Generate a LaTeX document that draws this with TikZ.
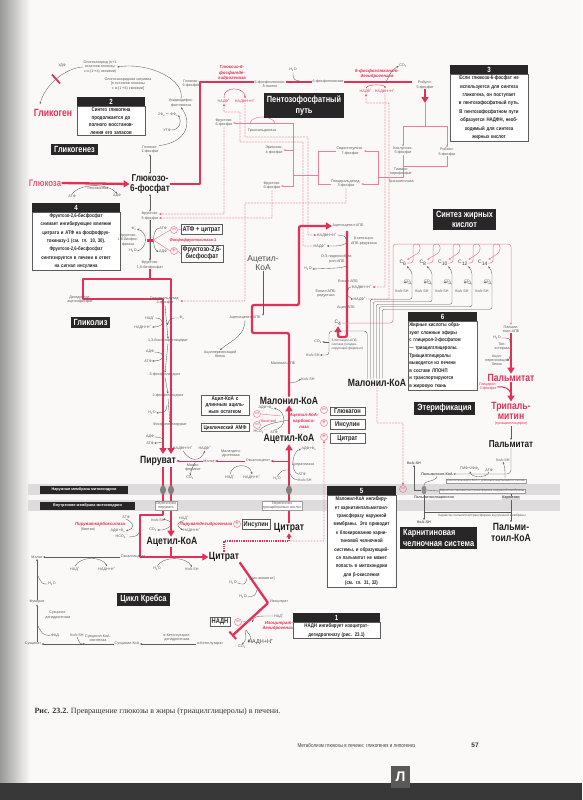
\documentclass[tikz,border=0pt]{standalone}
\usepackage{fontspec}
\setmainfont{Liberation Sans}
\newfontfamily\cnd[FakeStretch=0.82]{Liberation Sans}
\newfontfamily\srf{Liberation Serif}
\newfontfamily\djv{DejaVu Sans}
\usetikzlibrary{arrows.meta,calc,shapes.geometric}
\newcommand\sbx[1]{\textsubscript{#1}}
\newcommand\spx[1]{\textsuperscript{#1}}
\pgfdeclarelayer{back}
\pgfdeclarelayer{mid}
\pgfsetlayers{back,mid,main}
\definecolor{rd}{RGB}{226,48,86}
\definecolor{pk}{RGB}{234,128,150}
\definecolor{dotc}{RGB}{228,80,110}
\definecolor{lg}{RGB}{92,92,92}
\definecolor{paper}{RGB}{250,249,247}
\definecolor{band}{RGB}{221,219,219}
\definecolor{dk}{RGB}{40,38,38}
\tikzset{
 every node/.style={inner sep=0.4pt, align=center},
 xt/.style={font=\fontsize{3.7}{4.2}\selectfont, text=lg},
 xtr/.style={font=\fontsize{3.7}{4.2}\selectfont, text=rd},
 xenz/.style={font=\fontsize{4.4}{5.6}\selectfont\bfseries\itshape, text=rd},
 xbm/.style={font=\cnd\fontsize{10.5}{11}\selectfont\bfseries, text=black!88},
 xmm/.style={font=\cnd\fontsize{10}{10}\selectfont\bfseries, text=black!88},
 xrb/.style={font=\cnd\fontsize{10.5}{10.5}\selectfont\bfseries, text=rd},
 xdb/.style={fill=dk, text=white, font=\cnd\fontsize{9}{10.5}\selectfont\bfseries, inner xsep=3pt, inner ysep=2.5pt},
 xhd/.style={fill=dk, text=white, font=\cnd\fontsize{7.5}{7.5}\selectfont\bfseries, minimum height=9pt, inner sep=0pt, anchor=north west},
 xbd/.style={draw=lg, line width=0.6pt, fill=white, text=black!85, inner xsep=1pt, inner ysep=1.5pt, anchor=north west},
 xib/.style={draw=lg, line width=0.7pt, fill=white, font=\cnd\fontsize{7}{7.5}\selectfont\bfseries, text=black!85, inner sep=1.6pt},
 xsb/.style={xt, draw=lg!60, line width=0.3pt, fill=white, inner sep=0.8pt},
 xR/.style={draw=rd, line width=2.3pt},
 xRa/.style={xR, -{Triangle[length=6pt,width=7pt]}},
 xa/.style={draw=lg, line width=0.35pt, -{Stealth[length=2.2pt,width=1.8pt]}},
 xl/.style={draw=lg, line width=0.35pt},
 xrt/.style={draw=rd, line width=0.6pt, -{Stealth[length=3pt,width=2.5pt]}},
 xp/.style={draw=pk, line width=0.5pt},
 xpa/.style={xp, -{Stealth[length=2.4pt,width=2pt]}},
 xdt/.style={draw=dotc, line width=0.75pt, line cap=round, dash pattern=on 0pt off 1.5pt, -{Stealth[length=2.6pt,width=2.2pt]}},
 xneg/.style={circle, draw=rd!70, line width=0.45pt, minimum size=7pt, inner sep=0pt, font=\fontsize{6.5}{6.5}\selectfont\bfseries, text=rd!70},
 xmc/.style={ellipse, fill=black!50, minimum width=6pt, minimum height=9pt, inner sep=0pt},
}
\begin{document}
\begin{tikzpicture}[x=1pt,y=-1pt]
\useasboundingbox (0,0) rectangle (582,800);
\begin{pgfonlayer}{back}
\fill[paper] (0,0) rectangle (582,800);
\shade[left color=black!40, right color=paper] (0,0) rectangle (30,783);
\fill[black!78] (0,783) rectangle (582,800);
\fill[band] (28,484) rectangle (560,495);
\fill[band] (28,500) rectangle (560,511);
\end{pgfonlayer}

% ---------- glycogen ----------
\node[xt] (olg1) at (100,67) {Олигосахарид (n+1\\остатков глюкозы\\с α-(1{\djv →}4) связями)};
\node[xt] (olg2) at (128,84) {Олигосахаридная затравка\\{[}n остатков глюкозы\\с α-(1{\djv →}4) связями{]}};
\node[xt] (udf) at (62,66) {УДФ};
\node[xrb] (glg) at (53,113) {Гликоген};
\coordinate (gkt) at (40,104);
\node[xhd, minimum width=68pt] (h2) at (77,97) {2};
\node[xbd, text width=65.5pt, font=\cnd\fontsize{5.4}{7.5}\selectfont\bfseries] (b2) at (77,106) {Синтез гликогена\\продолжается до\\полного восстанов-\\ления его запасов};
\node[xdb] (glgen) at (74.5,149.5) {Гликогенез};
\node[xt] (g1p) at (150,150) {Глюкозо-\\1-фосфат};
\node[xt] (udpg) at (181,103) {Уридиндифос-\\фатглюкоза};
\node[xt] (pp) at (168,115) {2Ф\sbx{н} {\djv ←} ФФ\sbx{н}};
\node[xt] (utp) at (167,130) {УТФ};

% ---------- glucose ----------
\node[xrb, text=rd!80, font=\cnd\fontsize{9.5}{9.5}\selectfont\bfseries] (glc) at (45,183) {Глюкоза};
\node[xmm] (g6p) at (150,184) {Глюкозо-\\6-фосфат};
\node[xt] (hk) at (98,188) {Гексокиназа};
\node[xt] (atp1) at (72,196) {АТФ};
\node[xt] (adp1) at (117,196) {АДФ};

% ---------- pentose ----------
\node[xt] (g6ps) at (191,84) {Глюкозо-\\6-фосфат};
\node[xenz] (g6pdh) at (232,73) {Глюкозо-6-\\фосфатде-\\гидрогеназа};
\node[xtr] (nadp1) at (224,101) {НАДФ\spx{+}};
\node[xtr] (nadph1) at (245,101) {НАДФН+Н\spx{+}};
\node[xt, fill=paper] (lac) at (270,84) {6-фосфоглюконо-\\δ-лактон};
\node[xt] (h2o1) at (293,70) {H\sbx{2}O};
\node[xt, fill=paper] (pgl) at (328,82) {6-фосфоглюконат};
\node[xenz] (pgdh) at (377,74) {6-фосфоглюконат-\\дегидрогеназа};
\node[xt] (co2a) at (403,66) {CO\sbx{2}};
\node[xtr] (nadp2) at (366,91) {НАДФ\spx{+}};
\node[xtr] (nadph2) at (385,91) {НАДФН+Н\spx{+}};
\node[xt, fill=paper] (ru5p) at (425,85) {Рибуло-\\5-фосфат};
\coordinate (rc3) at (425,103);
\node[xdb] (ppp) at (304,105.5) {Пентозофосфатный\\путь};
\node[xhd, minimum width=78pt] (h3) at (450,65) {3};
\node[xbd, text width=75.5pt, font=\cnd\fontsize{5.3}{8.4}\selectfont\bfseries] (b3) at (450,74) {Если глюкозо-6-фосфат не\\используется для синтеза\\гликогена, он поступает\\в пентозофосфатный путь.\\В пентозофосфатном пути\\образуется НАДФН, необ-\\ходимый для синтеза\\жирных кислот};
\node[xt] (f6pa) at (224,123) {Фруктозо-\\6-фосфат};
\node[xt] (tald) at (262,131) {Трансальдолаза};
\node[xt] (e4p) at (274,150) {Эритрозо-\\4-фосфат};
\node[xt] (f6pb) at (272,186) {Фруктозо-\\6-фосфат};
\node[xt] (s7p) at (350,151) {Седогептулозо-\\7-фосфат};
\node[xt] (gapa) at (346,184) {Глицеральдегид-\\3-фосфат};
\node[xt] (x5p) at (403,151) {Ксилулозо-\\5-фосфат};
\node[xt] (r5p) at (447,152) {Рибозо-\\5-фосфат};
\node[xt] (tpp) at (401,172) {Тиамин-\\пирофосфат};
\node[xt] (tkt) at (401,182) {Транскетолаза};

% ---------- glycolysis ----------
\node[xhd, minimum width=88pt] (h4) at (32,203) {4};
\node[xbd, text width=85.5pt, font=\cnd\fontsize{5.2}{8.3}\selectfont\bfseries] (b4) at (32,212) {Фруктозо-2,6-бисфосфат\\снимает ингибирующее влияние\\цитрата и АТФ на фосфофрук-\\токиназу-1 (см. гл. 10, 30).\\Фруктозо-2,6-бисфосфат\\синтезируется в печени в ответ\\на сигнал инсулина};
\node[xt] (f6p) at (150,216) {Фруктозо-\\6-фосфат};
\node[xt] (f16) at (150,265) {Фруктозо-\\1,6-бисфосфат};
\node[fill=rd, minimum width=6pt, minimum height=3pt, inner sep=0pt] (pfkm) at (150,240) {};
\node[xtr, font=\fontsize{4}{4.5}\selectfont\bfseries\itshape] (pfk) at (193,240) {Фосфофруктокиназа-1};
\node[xt] (atp2) at (163,228) {АТФ};
\node[xt] (adp2) at (163,252) {АДФ};
\node[xt] (pi2) at (134,229) {Ф\sbx{н}};
\node[xt] (fbp) at (128,240) {Фруктозо-\\1,6-бисфос-\\фатаза};
\node[xt] (h2o2) at (133,251) {H\sbx{2}O};
\node[xib] (atpc) at (201.5,229.5) {АТФ + цитрат};
\node[xneg] (n1) at (174,230) {{\djv −}};
\node[xib] (f26) at (202,253.5) {Фруктозо-2,6-\\бисфосфат};
\node[xneg] (p1) at (174,251) {+};
\node[xt] (dhap) at (80,300) {Дигидрокси-\\ацетонфосфат};
\node[xt] (gap) at (165,301) {Глицеральдегид-\\3-фосфат};
\node[xdb] (glyc) at (90.5,322.5) {Гликолиз};
\node[xt] (nad1) at (150,318) {НАД\spx{+}};
\node[xt] (pi1) at (182,318) {Ф\sbx{н}};
\node[xt] (nadh1) at (143,327) {НАДН+Н\spx{+}};
\node[xt] (bpg) at (168,341) {1,3-бисфосфоглицерат};
\node[xt] (adp3) at (150,352) {АДФ};
\node[xt] (atp3) at (148,361) {АТФ};
\node[xt] (pg3) at (165,375) {3-фосфоглицерат};
\node[xt] (pg2) at (168,396) {2-фосфоглицерат};
\node[xt] (h2o3) at (152,413) {H\sbx{2}O};
\node[xt] (pep) at (170,425) {Фосфоенолпируват};
\node[xt] (adp4) at (150,437) {АДФ};
\node[xt] (atp4) at (150,443) {АТФ};
\node[xbm] (pyr) at (158,461) {Пируват};

% ---------- cytosol middle ----------
\node[xt] (mal1) at (209,461) {Малат};
\node[xt] (oaa1) at (258,461) {Оксалоацетат};
\node[xt] (nadph5) at (183,448) {НАДФН+Н\spx{+}};
\node[xt] (nadp5) at (205,448) {НАДФ\spx{+}};
\node[xt] (me) at (193,468) {Малик-\\фермент};
\node[xt] (co2b) at (190,478) {CO\sbx{2}};
\node[xt] (mdh) at (231,454) {Малатдеги-\\дрогеназа};
\node[xt] (nad2) at (230,477) {НАД\spx{+}};
\node[xt] (nadh2) at (252,477) {НАДН+Н\spx{+}};
\node[xbm] (acc) at (289,439) {Ацетил-КоА};
\node[xbm] (mal) at (289,401) {Малонил-КоА};
\node[xt] (adpp) at (266,408) {АДФ+Ф\sbx{н}};
\node[xtr, font=\fontsize{4}{4.5}\selectfont\itshape] (biot) at (268,421) {(биотин)};
\node[xt] (hco3) at (260,432) {HCO\sbx{3}\spx{{\djv −}}};
\node[xt] (atp5) at (274,432) {АТФ};
\node[xenz] (accz) at (304,421) {Ацетил-КоА-\\карбокси-\\лаза};
\node[xneg] (n2) at (257,414) {{\djv −}};
\node[xneg] (n3) at (257,425) {{\djv −}};
\node[xib, font=\cnd\fontsize{5.6}{6.6}\selectfont\bfseries, text width=45pt] (lca) at (225,405) {Ацил-КоА с\\длинным ациль-\\ным остатком};
\node[xib, font=\cnd\fontsize{5.6}{6.6}\selectfont\bfseries, text width=45pt] (camp) at (225,427.5) {Циклический АМФ};
\node[xneg] (n4) at (324,410) {{\djv −}};
\node[xib, minimum width=35pt] (glucagon) at (347.5,411.5) {Глюкагон};
\node[xneg] (p2) at (324,423) {+};
\node[xib, minimum width=35pt] (ins1) at (347.5,424.5) {Инсулин};
\node[xneg] (p3) at (324,437) {+};
\node[xib, minimum width=35pt] (citb) at (347.5,438.5) {Цитрат};
\node[xt] (adpp2) at (309,449) {АДФ+Ф\sbx{н}};
\node[xt] (cl) at (303,465) {Цитратлиаза};
\node[xt] (atp6) at (302,474) {АТФ};
\node[xt] (coa6) at (305,480) {КоА-SH};
\node[xt] (h2o6) at (277,479) {H\sbx{2}O};

% ---------- membranes ----------
\node[fill=dk, text=white, font=\fontsize{3.8}{4}\selectfont\bfseries, minimum width=88pt, minimum height=8pt] (om) at (84,489.5) {Наружная мембрана митохондрии};
\node[fill=dk, text=white, font=\fontsize{3.8}{4}\selectfont\bfseries, minimum width=95pt, minimum height=8pt] (imb) at (87.5,505.5) {Внутренняя мембрана митохондрии};
\node[xmc] (mc1) at (163,490) {};
\node[xmc] (mc2) at (171,490) {};
\node[xmc] (mc3) at (289,490) {};
\node[xsb] (ptr) at (166,506) {Переносчик\\пирувата};
\node[xsb] (tcc) at (282,506) {Переносчик\\трикарбоновых кислот};

% ---------- mitochondria ----------
\node[xenz] (pdh) at (206,524) {Пируватдегидрогеназа};
\node[xneg] (p4) at (237,524) {+};
\node[xib] (ins2) at (256,524.5) {Инсулин};
\node[xt] (nad3) at (184,518) {НАД\spx{+}};
\node[xt] (nadh3) at (192,530) {НАДН+Н\spx{+}};
\node[xt] (coa3) at (158,520) {КоА-SH};
\node[xt] (co2c) at (153,530) {CO\sbx{2}};
\node[xt] (atp7) at (126,517) {АТФ};
\node[xenz] (pc) at (100,524) {Пируваткарбоксилаза};
\node[xt] (biot2) at (88,530) {(биотин)};
\node[xt] (adpp3) at (118,531) {АДФ+Ф\sbx{н}};
\node[xt] (hco3b) at (122,537) {HCO\sbx{3}\spx{{\djv −}}};
\node[xbm] (acm) at (172,542) {Ацетил-КоА};
\node[xbm] (cit1) at (224,557) {Цитрат};
\node[xbm] (cit2) at (289,528) {Цитрат};
\coordinate (ct1) at (289,541);

% ---------- fatty acid synthesis ----------
\node[font=\fontsize{8.5}{9.5}\selectfont, text=black!70] (acyt) at (263,263) {Ацетил-\\КоА};
\node[xt] (aacp) at (245,318) {Ацетоацетил-АПБ};
\node[xt] (acp) at (220,354) {Ацилпереносящий\\белок};
\node[xt] (macp) at (283,363) {Малонил-АПБ};
\node[xt] (coa7) at (308,379) {КоА-SH};
\node[xt] (aacp2) at (348,226) {Ацетоацетил-АПБ};
\node[xt] (nadph3) at (327,235) {НАДФН+Н\spx{+}};
\node[xt] (kar) at (364,241) {β-кетоацил-\\АПБ-редуктаза};
\node[xt] (nadp3) at (320,246) {НАДФ\spx{+}};
\node[xt] (hbacp) at (337,259) {D-3-гидроксибути-\\рил-АПБ};
\node[xt] (h2o7) at (308,269) {H\sbx{2}O};
\node[xt] (eacp) at (348,281) {Еноил-АПБ};
\node[xt] (nadph4) at (362,287) {НАДФН+Н\spx{+}};
\node[xt] (ear) at (326,294) {Еноил-АПБ-\\редуктаза};
\node[xt] (nadp4) at (360,299) {НАДФ\spx{+}};
\node[xt] (acylacp) at (346,308) {Ацил-АПБ};
\node[xt, font=\fontsize{5}{5}\selectfont, text=black!75] (cfour) at (338,323) {C\sbx{4}};
\node[xt] (co2d) at (318,342) {CO\sbx{2}};
\node[xt] (coa8) at (313,355) {КоА-SH};
\node[xt, font=\fontsize{3.3}{3.9}\selectfont, align=left, anchor=west] (kas) at (331,345) {3-Кетоацил-АПБ-\\синтаза (конден-\\сирующий фермент)};
\node[xbm] (mal2) at (377,383) {Малонил-КоА};
\node[xdb] (fas) at (464.5,219.5) {Синтез жирных\\кислот};
\foreach \i/\lab in {0/6,1/8,2/10,3/12,4/14}{
  \node[xt, font=\fontsize{5}{5}\selectfont, text=black!75] (cl\i) at ({403+20*\i},263) {C\sbx{\lab}};
  \node[xt] (kx\i) at ({402+20*\i},291) {КоА-SH};
  \node[xt] (cx\i) at ({408+20*\i},282) {CO\sbx{2}};
}
\node[xhd, minimum width=69pt] (h6) at (408,312) {6};
\node[xbd, text width=66.5pt, align=left, font=\cnd\fontsize{5.2}{7.6}\selectfont\bfseries] (b6) at (408,321) {Жирные кислоты обра-\\зуют сложные эфиры\\с глицерол-3-фосфатом\\— триацилглицеролы.\\Триацилглицеролы\\выводятся из печени\\в составе ЛПОНП\\и транспортируются\\в жировую ткань};

% ---------- right column ----------
\node[xt] (paacp) at (511,329) {Пальми-\\тоил-АПБ};
\node[xt] (h2o8) at (497,338) {H\sbx{2}O};
\node[xt] (te) at (502,347) {Тио-\\эстераза};
\node[xt] (acpb) at (497,360) {Ацил-\\переносящий\\белок};
\node[xrb] (palm1) at (511,378) {Пальмитат};
\node[xtr] (g3p) at (488,387) {Глицерол-\\3-фосфат};
\node[xrb] (tripal) at (511,411) {Трипаль-\\митин};
\node[xtr] (tag) at (511,424) {(триацилглицерол)};
\node[xdb] (est) at (444.5,408.5) {Этерификация};
\node[xmm] (palm2) at (511,444) {Пальмитат};
\node[xt] (coa9) at (503,460) {КоА-SH};
\node[xt] (gmf) at (470,469) {ГМФ+2ФФ\sbx{н}};
\node[xt] (atp9) at (489,470) {АТФ};
\node[xt, font=\fontsize{3.7}{4.2}\selectfont\bfseries] (palcoa1) at (437,474) {Пальмитоил-КоА};
\node[xsb, font=\fontsize{3.2}{3.6}\selectfont] (acs) at (486,481) {Синтетаза ацил-КоА с длинным ацильным остатком};
\node[xt, font=\fontsize{3.7}{4.2}\selectfont\bfseries] (coa10) at (414,463) {КоА-SH};
\node[ellipse, fill=black!45, minimum width=5pt, minimum height=9pt, inner sep=0pt] (cpt1o) at (424,490) {};
\node[xneg] (n5) at (403,489) {{\djv −}};
\node[xsb, font=\fontsize{3.2}{3.6}\selectfont] (cpt1) at (482,491) {Карнитин-пальмитоилтрансфераза наружной мембраны};
\node[xt, font=\fontsize{3.7}{4.2}\selectfont\bfseries] (palcar) at (434,498) {Пальмитоилкарнитин};
\node[xt, font=\fontsize{3.7}{4.2}\selectfont\bfseries, fill=band] (car) at (511,498) {Карнитин};
\node[xt, font=\fontsize{3.2}{3.6}\selectfont] (cpt2) at (482,516) {Карнитин-пальмитоилтрансфераза внутренней мембраны};
\node[xt, font=\fontsize{3.7}{4.2}\selectfont\bfseries] (coa11) at (424,522) {КоА-SH};
\node[xbm] (palcoa2) at (511,532) {Пальми-\\тоил-КоА};
\node[xdb, align=left, anchor=north west] (cns) at (400,527) {Карнитиновая\\челночная система};
\node[xhd, minimum width=69pt] (h5) at (327,486) {5};
\node[xbd, text width=66.5pt, font=\cnd\fontsize{5.2}{8.4}\selectfont\bfseries] (b5) at (327,495) {Малонил-КоА ингибиру-\\ет карнитинпальмитоил-\\трансферазу наружной\\мембраны. Это приводит\\к блокированию карни-\\тиновой челночной\\системы, и образующий-\\ся пальмитат не может\\попасть в митохондрии\\для β-окисления\\(см. гл. 31, 32)};

% ---------- Krebs ----------
\node[xt] (mal3) at (37,557) {Малат};
\node[xt] (oaa2) at (133,557) {Оксалоацетат};
\node[xt] (nad4) at (75,569) {НАД\spx{+}};
\node[xt] (nadh4) at (107,569) {НАДН+Н\spx{+}};
\node[xt] (h2o9) at (157,569) {H\sbx{2}O};
\node[xt] (coa12) at (192,569) {КоА-SH};
\node[xt] (fum) at (37,602) {Фумарат};
\node[xt] (h2o10) at (52,584) {H\sbx{2}O};
\node[xt] (sdh) at (58,615) {Сукцинат-\\дегидрогеназа};
\node[xt] (suc) at (33,644) {Сукцинат};
\node[xt] (fad) at (55,636) {ФАД};
\node[xt] (scoa) at (127,644) {Сукцинил-КоА};
\node[xt] (coa13) at (77,635) {КоА-SH};
\node[xt] (scs) at (98,638) {Сукцинил-КоА-\\синтетаза};
\node[xt] (akg) at (210,644) {α-Кетоглутарат};
\node[xt] (akgdh) at (177,638) {α-Кетоглутарат-\\дегидрогеназа};
\node[xdb] (krebs) at (143.5,599.5) {Цикл Кребса};
\coordinate (icit) at (268,603);
\coordinate (akgr) at (232,636);
\node[xt] (cis) at (262,579) {[Цис-аконитат]};
\node[xt] (h2o11) at (233,583) {H\sbx{2}O};
\node[xt] (h2o12) at (243,597) {H\sbx{2}O};
\node[xt] (icitl) at (279,602) {Изоцитрат};
\node[xt] (nad5) at (279,616) {НАД\spx{+}};
\node[xenz] (idh) at (279,626) {Изоцитрат-\\дегидрогеназа};
\node[xib] (nadhb) at (220,622) {НАДН};
\node[xneg] (n6) at (238,622) {{\djv −}};
\node[xt] (co2e) at (242,647) {CO\sbx{2}};
\node[font=\fontsize{5.5}{6}\selectfont, text=black!75] (nadh5) at (261,642) {НАДН+Н\spx{+}};
\node[xhd, minimum width=87pt] (h1) at (293,613) {1};
\node[xbd, text width=84.5pt, font=\cnd\fontsize{5.3}{8.5}\selectfont\bfseries] (b1) at (293,622) {НАДН ингибирует изоцитрат-\\дегидрогеназу (рис. 23.1)};

% ---------- caption / footer ----------
\node[anchor=west, font=\srf\fontsize{8}{9}\selectfont, text=black!80] (cap) at (34,712) {\textbf{Рис. 23.2.} Превращение глюкозы в жиры (триацилглицеролы) в печени.};
\node[anchor=west, font=\cnd\fontsize{5.6}{6}\selectfont, text=black!75] (ft) at (297,745) {Метаболизм глюкозы в печени: гликогенез и липогенез};
\node[font=\bfseries\fontsize{6.5}{7}\selectfont, text=black!80] (pgn) at (475,745) {57};
\node[fill=black!65, text=white, font=\bfseries\fontsize{14}{14}\selectfont, minimum width=19pt, minimum height=22pt] (logo) at (400.5,777) {Л};

% ================= connectors =================
\begin{pgfonlayer}{mid}
% glycogen
\draw[xa] (olg1.west) .. controls (65,68) and (45,85) .. (gkt);
\draw[draw=rd, line width=1.8pt] (52,74.5) -- (60,83.5);
\draw[xa] (g1p.north east) .. controls (188,142) and (192,122) .. (udpg.south);
\draw[xa] (udpg.north) .. controls (185,80) and (150,62) .. (olg1.east);
\draw[xa] (utp.east) .. controls (180,130) and (182,122) .. (pp.east);
\draw[xl, {Stealth[length=2pt,width=1.8pt]}-{Stealth[length=2pt,width=1.8pt]}] (g1p.south) -- (g6p.north);
% glucose
\draw[xRa] (glc.east) -- (g6p.west);
\draw[xa] (atp1.north) .. controls (80,183) and (108,183) .. (adp1.north);
% pentose red
\coordinate (rc1) at (200,82);
\coordinate (rc2) at (412,82);
\draw[xR, line join=round] (g6p.east) -| (rc1) -- (rc2);
\draw[xRa] (ru5p.south) -- (rc3);
\draw[draw=rd, line width=0.4pt, -{Stealth[length=2pt,width=1.8pt]}] (nadp1.north) .. controls (222,86) and (245,86) .. (nadph1.north);
\draw[xl] (h2o1.south) .. controls (293,80) .. (305,82);
\draw[xa] (386,82) .. controls (392,70) .. (co2a.west);
\draw[draw=rd, line width=0.4pt, -{Stealth[length=2pt,width=1.8pt]}] (nadp2.north) .. controls (366,84) and (385,84) .. (nadph2.north);
% pentose pink network
\draw[xpa] (rc3) -- (425,126) -| (x5p.north);
\draw[xpa] (425,126) -| (r5p.north);
\draw[xp] (x5p.south) |- (378,177);
\draw[xp] (r5p.south) |- (403,166);
\draw[xpa] (378,177) |- (s7p.east);
\draw[xpa] (378,177) |- (gapa.east);
\draw[xp] (s7p.west) -| (318,175);
\draw[xp] (gapa.west) -| (318,175);
\draw[xp] (318,175) -- (293,175);
\draw[xpa] (293,175) |- (e4p.east);
\draw[xpa] (293,175) |- (f6pb.east);
\draw[xpa] (293,175) |- (f6pa.east);
\draw[xp] (250,123) .. controls (252,115) and (272,115) .. (275,123);
% dotted connections
\draw[xdt] (f6pa.south) |- ($(f6p.east)+(0,-2)$);
\draw[xdt] (f6pb.south) |- ($(f6p.east)+(0,2)$);
\draw[xdt] (gapa.south) |- (245,203) |- (gap.east);
\draw[xdt] (nadph1.south) |- (308,137) |- (nadph3.west);
\draw[xdt] (nadp3.west) -| (303,142) -| (240,112) -| (nadp1.south);
\draw[xdt] (nadph2.south) |- (nadph4.east);
\draw[xdt] (nadp4.east) -| (389,103) -| (nadp2.south);
% glycolysis
\draw[xl, {Stealth[length=2pt,width=1.8pt]}-{Stealth[length=2pt,width=1.8pt]}] (g6p.south) -- (f6p.north);
\draw[draw=pk!55, line width=2.2pt] (f6p.south) -- (f16.north);
\draw[xa] (f6p.south) -- (f16.north);
\draw[xa] (atp2.west) .. controls (152,230) and (152,248) .. (adp2.west);
\draw[xa] (h2o2.east) .. controls (148,248) and (148,232) .. (pi2.east);
\draw[draw=rd!70, line width=0.4pt] (n1.west) -- (pfkm.east);
\draw[draw=rd!70, line width=0.4pt] (p1.west) -- (pfkm.east);
\draw[draw=rd!70, line width=0.4pt] (n1.east) -- (atpc.west);
\draw[draw=rd!70, line width=0.4pt] (p1.east) -- (f26.west);
\coordinate (gl0) at (150,279);
\coordinate (gl1) at (83,279);
\coordinate (gl2) at (83,299);
\coordinate (gl3) at (163,299);
\coordinate (gl4) at (171,279);
\coordinate (pa) at (163,454);
\coordinate (pb) at (171,454);
\draw[xR] (f16.south) -- (gl0);
\draw[xRa, line join=round] (gl0) -- (gl1) -- (gl2) -- (gl3) -- (pa);
\draw[xRa, line join=round] (gl0) -- (gl4) -- (pb);
\draw[xa] (gap.south) -- (bpg.north);
\draw[xa] (bpg.south) -- (pg3.north);
\draw[xa] (pg3.south) -- (pg2.north);
\draw[xa] (pg2.south) -- (pep.north);
\draw[xa] (nad1.east) .. controls (165,318) and (165,327) .. (nadh1.east);
\draw[xa] (pi1.west) .. controls (170,318) .. (167,325);
\draw[xa] (adp3.east) .. controls (166,352) and (166,361) .. (atp3.east);
\draw[xa] (167,405) .. controls (166,412) .. (h2o3.east);
\draw[xa] (adp4.east) .. controls (166,437) and (166,443) .. (atp4.east);
% pyruvate / malate
\coordinate (ox) at (289,461);
\draw[xrt] (mal1.west) -- (pyr.east);
\draw[xrt] (oaa1.west) -- (mal1.east);
\draw[xrt] (ox) -- (oaa1.east);
\draw[xa] (nadph5.south) .. controls (190,462) and (200,462) .. (nadp5.south);
\draw[xa] (196,461) .. controls (192,468) .. (co2b.north);
\draw[xa] (nad2.north) .. controls (232,463) and (250,463) .. (nadh2.north);
% acetyl-CoA carboxylase etc.
\draw[xRa] (cit2.north) -- (acc.south);
\draw[xRa] (acc.north) -- (mal.south);
\draw[xa] (atp5.north) .. controls (287,428) and (287,412) .. (adpp.east);
\draw[xl] (hco3.north) .. controls (268,424) .. (289,420);
\draw[draw=rd!70, line width=0.4pt] (n2.east) -- (281,416);
\draw[xa] (atp6.west) .. controls (291,472) and (291,452) .. (adpp2.west);
\draw[xl] (h2o6.north) .. controls (282,470) .. (289,470);
\draw[xl] (coa6.west) .. controls (293,479) .. (289,472);
% mitochondria
\coordinate (pc0) at (163,467);
\coordinate (pc1) at (163,515);
\coordinate (pc2) at (140,515);
\coordinate (pc3) at (140,557);
\coordinate (pd0) at (171,467);
\draw[xRa, line join=round] (pc0) -- (pc1) -- (pc2) -- (pc3) -- (cit1.west);
\draw[xRa] (pd0) -- (acm.north -| pd0);
\draw[xR] (acm.south -| pd0) -- (pc3 -| pd0);
\draw[draw=rd, line width=1.8pt, dash pattern=on 1.3pt off 1pt, -{Triangle[length=4pt,width=5pt]}] (cit1.north) |- (ct1) -- (cit2.south);
\draw[xdt] (ct1) -| (p3.south);
\draw[xa] (atp7.south) .. controls (135,524) and (135,528) .. (adpp3.east);
\draw[xl] (hco3b.east) .. controls (138,536) .. (140,530);
\draw[xa] (171,522) .. controls (164,519) .. (coa3.east);
\draw[xa] (171,526) .. controls (164,530) .. (co2c.east);
\draw[xa] (nad3.south) .. controls (176,522) and (176,526) .. (nadh3.west);
% fatty acid red loop
\coordinate (fa1) at (289,333);
\coordinate (fa2) at (252,333);
\coordinate (fa3) at (252,305);
\coordinate (fa4) at (299,305);
\coordinate (fb1) at (347,231);
\coordinate (fb2) at (347,337);
\coordinate (fb3) at (338,337);
\draw[xRa, rounded corners=2pt] (mal.north) -- (fa1) -- (fa2) -- (fa3) -- (fa4) |- (aacp2.west);
\draw[xRa, rounded corners=2pt] (fb1) -- (fb2) -- (fb3) -- (cfour.south);
\draw[xa] (acyt.south) -- (acyt.south |- aacp.north);
\draw[xa] (aacp.south) .. controls (245,336) and (232,340) .. (acp.north);
\draw[xa] (289,383) .. controls (297,382) .. (coa7.west);
\draw[xa] (nadph3.east) .. controls (345,236) .. (347,240);
\draw[xa] (347,243) .. controls (340,246) .. (nadp3.east);
\draw[xa] (347,266) .. controls (340,268) .. (h2o7.east);
\draw[xa] (nadph4.west) .. controls (349,287) .. (347,291);
\draw[xa] (347,295) .. controls (352,299) .. (nadp4.west);
% fatty acid elongation loops
\draw[xpa, rounded corners=3pt] (cfour.east) -| (393,244) -- (420,244) -- (420,252) -- (cl0.north east);
\foreach \i/\j in {1/0,2/1,3/2,4/3}{
  \draw[xpa, rounded corners=3pt] (cl\j.east) -| ({393+20*\i},244) -- ({420+20*\i},244) -- ({420+20*\i},252) -- (cl\i.north east);
}
\draw[xpa, rounded corners=3pt] (cl4.east) -| (493,244) -- (511,244) -- (paacp.north);
\foreach \k in {1,...,5}{
  \pgfmathtruncatemacro\ii{\k-1}
  \draw[xa, rounded corners=2pt] ($(mal2.north west)+({20+3*\k},0)$) -- ++(0,{-82+2.5*\k}) -| ({412+20*\ii},272) -- (cl\ii.south east);
  \draw[xa] ({412+20*\ii},284) -- (cx\ii.west);
}
\draw[xa, rounded corners=3pt] ($(mal2.north west)+(20,0)$) |- (329,331) |- (coa8.east);
\draw[xa] (329,342) -- (co2d.east);
% right column
\draw[xRa] (paacp.south) -- (palm1.north);
\draw[xRa] (palm1.south) -- (tripal.north);
\draw[draw=rd, line width=1pt] (g3p.east) .. controls (505,386) and (510,389) .. (511,394);
\draw[xa] (h2o8.east) .. controls (509,338) .. (511,343);
\draw[xa] (511,352) .. controls (509,360) .. (acpb.east);
\draw[xa] (tag.south) -- (palm2.north);
\draw[xa, rounded corners=4pt] (palm2.south) |- (palcoa1.east);
\draw[xa] (505,478) .. controls (505,468) .. (coa9.south);
\draw[xa] (atp9.south) .. controls (488,478) and (471,478) .. (gmf.south);
\draw[xl] (palcoa1.south) .. controls (437,482) and (424,480) .. (cpt1o.north);
\draw[xa] (cpt1o.west) -| (coa10.south);
\draw[xl] (cpt1o.east) -- (cpt1.west);
\draw[xl] (cpt1.east) -| (car.north);
\draw[xl] (cpt1o.south) -- (424,512) -- (511,512);
\draw[xa] (car.south) -- (palcoa2.north);
\draw[xa] (424,512) -- (coa11.north);
\draw[xdt] (mal2.south) |- (403,423) -- (n5.north);
% Krebs
\draw[xa] (oaa2.west) -- (mal3.east);
\draw[xa] (nad4.north) .. controls (80,556) and (102,556) .. (nadh4.north);
\draw[xa] (h2o9.north) .. controls (162,556) and (186,556) .. (coa12.north);
\draw[xa] (fum.north) -- (mal3.south);
\draw[xl] (h2o10.west) .. controls (42,584) .. (38,576);
\draw[xa] (suc.north -| fum.south) -- (fum.south);
\draw[xl] (fad.west) .. controls (42,634) .. (38,626);
\draw[xa] (scoa.west) -- (suc.east);
\draw[xa] (akg.west) -- (scoa.east);
\draw[xa] (coa13.south) .. controls (80,644) .. (85,644);
\draw[xR] (cit1.south east) -- (icit);
\draw[xR, -{Bar[width=10pt,line width=2pt]}] (icit) -- (akgr);
\draw[xl] (h2o11.east) .. controls (245,585) .. (247,578);
\draw[xl] (h2o12.east) .. controls (255,596) .. (257,590);
\draw[xa] (nad5.west) .. controls (255,616) .. (252,622);
\draw[xa] (245,630) .. controls (246,640) .. (co2e.north);
\draw[xa] (246,630) .. controls (252,638) .. (nadh5.west);
\draw[draw=rd!70, line width=0.4pt] (n6.east) -- (249,621);
\end{pgfonlayer}
\end{tikzpicture}
\end{document}
